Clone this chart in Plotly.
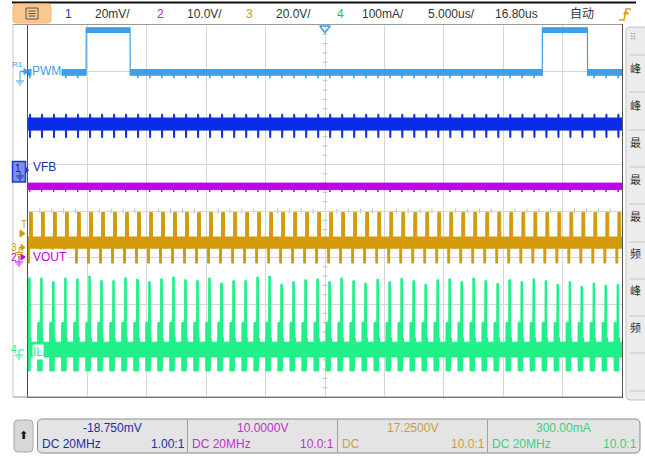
import numpy as np
import plotly.graph_objects as go

# ---------------- data (read from the screen, in divisions / microseconds) ----------------
# switching edges of the converter (us)
edge_times_us = [-25.88, -24.87, -23.86, -22.85, -21.84, -20.83, -19.81, -18.80, -17.79, -16.78,
                 -15.77, -14.76, -13.75, -12.74, -11.73, -10.72, -9.71, -8.70, -7.68, -6.67,
                 -5.66, -4.65, -3.64, -2.63, -1.62, -0.61, 0.40, 1.41, 2.42, 3.43,
                 4.45, 5.46, 6.47, 7.48, 8.49, 9.50, 10.51, 11.52, 12.53, 13.54,
                 14.55, 15.56, 16.58, 17.59, 18.60, 19.61, 20.62, 21.63, 22.64, 23.65,
                 24.66, 25.67]
# inductor-current peak of each switching cycle (div)
il_peak_div = [-1.45, -1.44, -1.44, -1.52, -1.44, -1.46, -1.40, -1.50, -1.50, -1.44,
               -1.47, -1.52, -1.46, -1.42, -1.48, -1.50, -1.44, -1.55, -1.50, -1.50,
               -1.42, -1.40, -1.58, -1.52, -1.48, -1.46, -1.52, -1.44, -1.50, -1.55,
               -1.47, -1.52, -1.45, -1.50, -1.58, -1.48, -1.46, -1.52, -1.44, -1.50,
               -1.56, -1.48, -1.52, -1.46, -1.50, -1.58, -1.52, -1.62, -1.55, -1.60,
               -1.58, -1.55]
# PWM (reference trace R1)
pwm_rise_us = [-20.1, 18.3]
pwm_fall_us = [-16.4, 22.1]
pwm_low_band = [3.04, 2.92]      # upper, lower (div)
pwm_high_band = [3.94, 3.84]
# channel bands: [upper, lower] (div)
vfb_band = [2.00, 1.74]
vout_band = [0.60, 0.46]
sw_band = [-0.56, -0.80]
il_band = [-2.82, -3.14]
# excursions around each edge: (start_us, end_us, upper, lower); None -> peak list
pwm_events = [(0.00, 0.04, 3.04, 2.87)]
vfb_events = [(0.00, 0.09, 2.08, 1.58)]
vout_events = [(0.00, 0.03, 0.60, 0.41)]
sw_events = [(0.00, 0.24, -0.03, -0.80), (0.84, 1.00, -0.62, -1.12)]
il_events = [(-0.32, -0.08, -2.40, -3.44), (-0.08, 0.06, None, -3.44), (0.06, 0.14, -2.72, -3.14)]

# top status bar / bottom channel boxes
top_items = [("1", "#2233cc"), ("20mV/", "#333"), ("2", "#c020c8"), ("10.0V/", "#333"),
             ("3", "#c8a000"), ("20.0V/", "#333"), ("4", "#20c060"), ("100mA/", "#333"),
             ("5.000us/", "#333"), ("16.80us", "#333"), ("自动", "#333")]
top_pos = [68, 112, 160, 204, 249, 293, 340, 383, 451, 516, 582]
box_values = ["-18.750mV", "10.0000V", "17.2500V", "300.00mA"]
box_coupling = ["DC 20MHz", "DC 20MHz", "DC", "DC 20MHz"]
box_probe = ["1.00:1", "10.0:1", "10.0:1", "10.0:1"]
box_colors = ["#1a2fa8", "#c030c8", "#c8a040", "#38d080"]
side_labels = ["峰", "峰", "最", "最", "最", "频", "峰", "频"]

C_PWM, C_VFB, C_VOUT, C_SW, C_IL = "#3d9fea", "#0b2ce6", "#c000ea", "#d39a0c", "#1ff087"

# ---------------- layout geometry (px) ----------------
W, H = 645, 456
L, R, T, B = 28, 622, 25, 397


def px(x):
    return (x - L) / (R - L)


def py(y):
    return (B - y) / (B - T)


t = np.round(np.arange(-25.6, 25.6, 0.01), 3)


def band(base, events, peaks=None, up=None, lo=None):
    if up is None:
        up = np.full(t.shape, base[0], dtype=float)
        lo = np.full(t.shape, base[1], dtype=float)
    for i, e in enumerate(edge_times_us):
        for (a, b, u, l) in events:
            m = (t >= e + a) & (t < e + b)
            uu = peaks[i] if u is None else u
            up[m] = np.maximum(up[m], uu)
            lo[m] = np.minimum(lo[m], l)
    return up, lo


def poly(up, lo, color, name, w=1):
    return go.Scatter(x=np.concatenate([t, t[::-1]]), y=np.concatenate([up, lo[::-1]]),
                      fill="toself", fillcolor=color, mode="lines",
                      line=dict(color=color, width=w), name=name, hoverinfo="skip")


# PWM: low level with small ticks, then the two high pulses
pwm_up, pwm_lo = band(pwm_low_band, pwm_events)
for r_, f_ in zip(pwm_rise_us, pwm_fall_us):
    m = (t >= r_) & (t < f_)
    pwm_up[m] = pwm_high_band[0]
    pwm_lo[m] = pwm_high_band[1]

fig = go.Figure()
fig.add_trace(poly(pwm_up, pwm_lo, C_PWM, "PWM", 1.2))
fig.add_trace(poly(*band(vfb_band, vfb_events), C_VFB, "VFB"))
fig.add_trace(poly(*band(vout_band, vout_events), C_VOUT, "VOUT"))
fig.add_trace(poly(*band(sw_band, sw_events), C_SW, "CH3"))
fig.add_trace(poly(*band(il_band, il_events, il_peak_div), C_IL, "IL"))
# trigger position marker
fig.add_trace(go.Scatter(x=[0], y=[3.93], mode="markers", cliponaxis=False,
                         marker=dict(symbol="triangle-down-open", size=9, color=C_PWM,
                                     line=dict(width=1.5, color=C_PWM)), hoverinfo="skip"))

shapes = []
ann = []
# centre crosshair minor ticks
for k in range(-24, 25):
    if k % 5:
        shapes.append(dict(type="line", xref="x", yref="y", x0=k, x1=k, y0=-0.05, y1=0.05,
                           line=dict(color="#b8b8b8", width=1), layer="below"))
for k in range(-19, 20):
    if k % 5:
        shapes.append(dict(type="line", xref="x", yref="y", x0=-0.2, x1=0.2, y0=k * 0.2,
                           y1=k * 0.2, line=dict(color="#b8b8b8", width=1), layer="below"))

P = dict(xref="paper", yref="paper")


def line(x0, y0, x1, y1, color, w=1):
    shapes.append(dict(type="line", x0=px(x0), y0=py(y0), x1=px(x1), y1=py(y1),
                       line=dict(color=color, width=w), **P))


def rect(x0, y0, x1, y1, fill, lc, w=1):
    shapes.append(dict(type="rect", x0=px(x0), y0=py(y0), x1=px(x1), y1=py(y1),
                       fillcolor=fill, line=dict(color=lc, width=w), **P))


def rrect(x0, y0, x1, y1, r, fill, lc, w=1):
    X0, X1, Y0, Y1 = px(x0), px(x1), py(y0), py(y1)
    rx, ry = r / (R - L), r / (B - T)
    path = (f"M {X0+rx},{Y0} L {X1-rx},{Y0} Q {X1},{Y0} {X1},{Y0-ry} L {X1},{Y1+ry} "
            f"Q {X1},{Y1} {X1-rx},{Y1} L {X0+rx},{Y1} Q {X0},{Y1} {X0},{Y1+ry} "
            f"L {X0},{Y0-ry} Q {X0},{Y0} {X0+rx},{Y0} Z")
    shapes.append(dict(type="path", path=path, fillcolor=fill, line=dict(color=lc, width=w), **P))


def tri(x0, y0, x1, y1, x2, y2, color):
    path = f"M {px(x0)},{py(y0)} L {px(x1)},{py(y1)} L {px(x2)},{py(y2)} Z"
    shapes.append(dict(type="path", path=path, fillcolor=color, line=dict(color=color, width=1), **P))


def ground(x, y, color):
    line(x, y, x, y + 5, color)
    line(x - 4, y + 5, x + 4, y + 5, color)
    line(x - 2.5, y + 7, x + 2.5, y + 7, color)
    line(x - 1, y + 9, x + 1, y + 9, color)


def text(x, y, s, color, size=12, xa="left", bg=None, family="Liberation Sans"):
    ann.append(dict(x=px(x), y=py(y), text=s, showarrow=False, xanchor=xa, yanchor="middle",
                    font=dict(family=family, size=size, color=color),
                    bgcolor=bg, borderpad=0, **P))


# frame lines around panel
line(13, 24, 13, 397, "#c8c8c8")
line(13, 397, 622, 397, "#909090")
line(12, 2.5, 636, 2.5, "#111", 2)
line(13, 24.5, 622, 24.5, "#9a9a9a")

# top bar
rrect(13, 4, 51, 23, 3, "#fbc88f", "#f3b878")
rect(26, 8, 38, 19, "rgba(0,0,0,0)", "#555")
for yy in (11, 13.5, 16):
    line(28.5, yy, 35.5, yy, "#555")
for (s, c), x in zip(top_items, top_pos):
    text(x, 14, s, c, 12, xa="center", family="Liberation Sans, Noto Sans CJK SC")
shapes.append(dict(type="path", path=f"M {px(619)},{py(20)} L {px(624)},{py(20)} L {px(626)},{py(9)} "
                                    f"L {px(631)},{py(9)}", line=dict(color="#e8a000", width=1.5), **P))
tri(623.5, 14, 628.5, 14, 626, 11, "#e8a000")

# right side panel
rrect(626, 27, 652, 400, 4, "#ececec", "#c4c4c4")
text(629, 37, "⠿", "#9a9a9a", 9, family="DejaVu Sans")
for yy in (55, 92, 130, 167, 204, 242, 279, 316, 353, 391):
    line(629, yy, 645, yy, "#c8c8c8")
for s, yy in zip(side_labels, (68, 105, 142, 179, 216, 253, 290, 327)):
    text(629, yy, s, "#333", 11, family="Noto Sans CJK SC")

# channel markers on the left
text(11, 64, "R1", C_PWM, 8)
line(20, 71.5, 24, 71.5, C_PWM, 1.5)
tri(24, 68.5, 28, 71.5, 24, 74.5, C_PWM)
line(20, 71.5, 20, 76, C_PWM)
ground(20, 76, C_PWM)
rect(12.5, 161.5, 25.5, 182, "#7a8ff0", "#1f3ad0", 1.5)
text(14, 168, "1", "#0a1a90", 10)
ground(20, 171, "#1a2a9a")
tri(25.5, 167, 28.5, 170, 25.5, 173, "#1f3ad0")
text(20, 224, "T", C_SW, 10)
tri(20, 230, 25, 233.5, 20, 237, C_SW)
text(10, 247, "3", C_SW, 10)
tri(21, 244.5, 25, 247.5, 21, 250.5, C_SW)
line(19, 247.5, 21, 247.5, C_SW)
ground(19, 247.5, C_SW)
text(10, 257, "2", C_VOUT, 10)
tri(21, 254, 25, 257, 21, 260, C_VOUT)
ground(19, 257, C_VOUT)
text(10, 349, "4", C_IL, 10)
line(19, 350, 24, 350, C_IL)
ground(19, 350, C_IL)

# trace labels (with white background)
text(31, 71, "PWM", C_PWM, 12, bg="white")
text(32, 167, "VFB", "#1a2ab0", 12, bg="white")
text(32, 257, "VOUT", C_VOUT, 12, bg="white")
text(32, 352, "IL", C_IL, 12, bg="white")

# bottom channel info boxes
rrect(14, 420, 33, 452, 4, "#d8d8d8", "#a8a8a8")
text(23.5, 436, "⬆", "#111", 11, xa="center", family="DejaVu Sans")
rrect(37.5, 419, 640, 453, 5, "#e4e4e4", "#8a8a8a")
cells = [37.5, 187.5, 337.5, 487.5, 640]
for xx in cells[1:-1]:
    line(xx, 419, xx, 453, "#a0a0a0")
for i in range(4):
    x0, x1 = cells[i], cells[i + 1]
    text((x0 + x1) / 2, 428, box_values[i], box_colors[i], 12, xa="center")
    text(x0 + 3, 444, box_coupling[i], box_colors[i], 12)
    text(x1 - 2, 444, box_probe[i], box_colors[i], 12, xa="right")

ax = dict(showgrid=True, gridcolor="#d6d6d6", gridwidth=1, zeroline=False,
          showticklabels=False, ticks="", showline=True, linecolor="#505050", linewidth=1,
          mirror=True, fixedrange=True)
fig.update_layout(
    width=W, height=H, margin=dict(l=L, r=W - R, t=T, b=H - B),
    paper_bgcolor="white", plot_bgcolor="white", showlegend=False,
    xaxis=dict(range=[-25, 25], dtick=5, tick0=0, **ax),
    yaxis=dict(range=[-4, 4], dtick=1, tick0=0, **ax),
    shapes=shapes, annotations=ann,
)
fig.write_html("out.html", config={"displayModeBar": False},
               post_script="document.body.style.margin='0';document.body.style.overflow='hidden';")
